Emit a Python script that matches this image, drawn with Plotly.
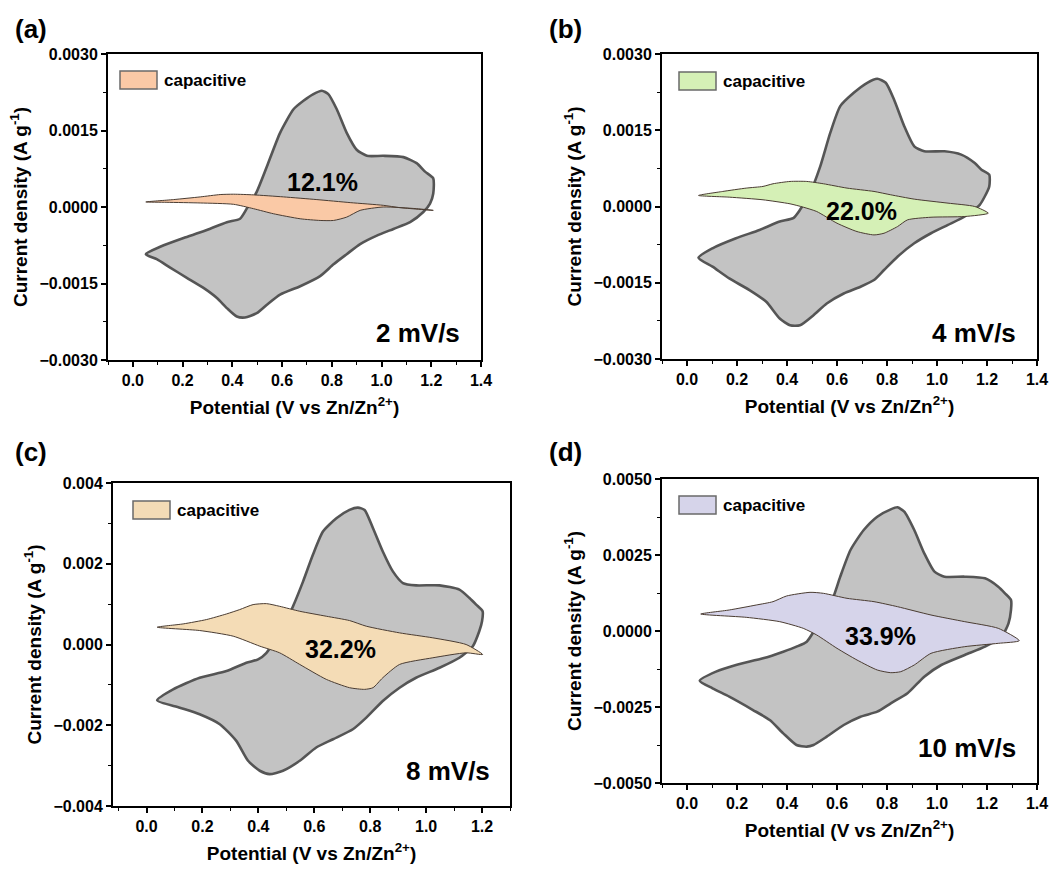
import plotly.graph_objects as go

W, H = 1059, 870

# ---------------- data (current density in A/g vs potential in V) ----------------
a_cv_x = [0.052, 0.110, 0.204, 0.284, 0.378, 0.431, 0.458, 0.498, 0.539, 0.592, 0.646, 0.686, 0.726, 0.760, 0.786, 0.820,
          0.860, 0.900, 0.941, 1.007, 1.088, 1.141, 1.175, 1.208, 1.208, 1.195, 1.168, 1.115, 1.048, 0.981, 0.914, 0.860,
          0.807, 0.753, 0.673, 0.592, 0.539, 0.498, 0.451, 0.418, 0.378, 0.338, 0.284, 0.217, 0.150, 0.096, 0.052]
a_cv_y = [-0.000925, -0.000780, -0.000608, -0.000476, -0.000297, -0.000231, -0.000033, 0.000297, 0.000793, 0.001454,
          0.001916, 0.002082, 0.002214, 0.002280, 0.002214, 0.001916, 0.001454, 0.001123, 0.001004, 0.001004, 0.000978,
          0.000859, 0.000694, 0.000562, 0.000264, 0.000066, -0.000099, -0.000297, -0.000430, -0.000562, -0.000727,
          -0.000925, -0.001123, -0.001355, -0.001553, -0.001718, -0.001916, -0.002082, -0.002167, -0.002148, -0.001982,
          -0.001784, -0.001586, -0.001388, -0.001189, -0.001024, -0.000925]
a_cap_x = [0.052, 0.163, 0.271, 0.351, 0.405, 0.485, 0.606, 0.740, 0.874, 1.007, 1.074, 1.208, 1.141, 1.007, 0.914,
           0.860, 0.807, 0.753, 0.673, 0.565, 0.485, 0.405, 0.271, 0.137, 0.052]
a_cap_y = [0.000099, 0.000145, 0.000198, 0.000244, 0.000251, 0.000238, 0.000198, 0.000145, 0.000086, 0.000033,
           -0.000013, -0.000066, -0.000033, 0.000000, -0.000066, -0.000198, -0.000264, -0.000264, -0.000231,
           -0.000132, -0.000033, 0.000053, 0.000079, 0.000092, 0.000099]

b_cv_x = [0.046, 0.102, 0.196, 0.290, 0.371, 0.425, 0.452, 0.492, 0.533, 0.573, 0.613, 0.667, 0.721, 0.761, 0.795, 0.828,
          0.869, 0.909, 0.949, 1.030, 1.097, 1.151, 1.178, 1.209, 1.209, 1.191, 1.171, 1.111, 1.044, 0.976, 0.909, 0.842,
          0.788, 0.748, 0.694, 0.627, 0.559, 0.506, 0.452, 0.412, 0.371, 0.317, 0.250, 0.169, 0.102, 0.046]
b_cv_y = [-0.001007, -0.000822, -0.000625, -0.000461, -0.000296, -0.000230, -0.000066, 0.000263, 0.000789, 0.001447,
          0.001974, 0.002237, 0.002434, 0.002513, 0.002434, 0.002105, 0.001579, 0.001184, 0.001086, 0.001086, 0.001020,
          0.000855, 0.000724, 0.000625, 0.000395, 0.000197, 0.000033, -0.000197, -0.000362, -0.000526, -0.000724,
          -0.000987, -0.001250, -0.001447, -0.001579, -0.001711, -0.001908, -0.002138, -0.002336, -0.002336, -0.002204,
          -0.001875, -0.001645, -0.001414, -0.001184, -0.001007]
b_cap_x = [0.046, 0.143, 0.237, 0.304, 0.344, 0.412, 0.479, 0.546, 0.640, 0.748, 0.815, 0.909, 1.044, 1.151, 1.205,
           1.111, 0.976, 0.882, 0.842, 0.788, 0.748, 0.680, 0.600, 0.519, 0.465, 0.412, 0.304, 0.169, 0.046]
b_cap_y = [0.000217, 0.000296, 0.000362, 0.000395, 0.000447, 0.000493, 0.000493, 0.000447, 0.000362, 0.000296,
           0.000230, 0.000145, 0.000066, 0.000000, -0.000132, -0.000197, -0.000211, -0.000263, -0.000395, -0.000526,
           -0.000559, -0.000493, -0.000329, -0.000099, -0.000013, 0.000053, 0.000132, 0.000184, 0.000217]

c_cv_x = [0.038, 0.095, 0.190, 0.286, 0.357, 0.399, 0.429, 0.464, 0.500, 0.524, 0.560, 0.595, 0.631, 0.679, 0.726, 0.756,
          0.780, 0.810, 0.845, 0.881, 0.917, 0.964, 1.048, 1.119, 1.155, 1.179, 1.202, 1.200, 1.190, 1.167, 1.119, 1.048,
          0.964, 0.905, 0.845, 0.786, 0.738, 0.667, 0.607, 0.548, 0.488, 0.440, 0.405, 0.363, 0.321, 0.262, 0.190, 0.119,
          0.038]
c_cv_y = [-0.001383, -0.001111, -0.000823, -0.000658, -0.000453, -0.000370, -0.000206, 0.000165, 0.000576, 0.000946,
          0.001564, 0.002222, 0.002798, 0.003127, 0.003333, 0.003391, 0.003333, 0.002880, 0.002304, 0.001811, 0.001523,
          0.001465, 0.001465, 0.001358, 0.001152, 0.000988, 0.000823, 0.000576, 0.000329, -0.000041, -0.000329,
          -0.000576, -0.000823, -0.001070, -0.001399, -0.001811, -0.002099, -0.002346, -0.002551, -0.002880, -0.003127,
          -0.003210, -0.003127, -0.002880, -0.002387, -0.001975, -0.001728, -0.001564, -0.001383]
c_cap_x = [0.038, 0.131, 0.214, 0.286, 0.333, 0.381, 0.429, 0.476, 0.548, 0.643, 0.726, 0.786, 0.905, 1.024, 1.143,
           1.202, 1.143, 1.024, 0.905, 0.845, 0.810, 0.780, 0.726, 0.643, 0.548, 0.476, 0.405, 0.310, 0.190, 0.038]
c_cap_y = [0.000428, 0.000510, 0.000617, 0.000757, 0.000864, 0.000988, 0.001012, 0.000946, 0.000823, 0.000700,
           0.000593, 0.000453, 0.000288, 0.000165, 0.000000, -0.000247, -0.000206, -0.000329, -0.000494, -0.000823,
           -0.001070, -0.001111, -0.001070, -0.000864, -0.000494, -0.000206, -0.000041, 0.000206, 0.000346, 0.000428]

d_cv_x = [0.051, 0.116, 0.196, 0.304, 0.385, 0.438, 0.479, 0.519, 0.559, 0.586, 0.613, 0.654, 0.707, 0.761, 0.815, 0.842,
          0.869, 0.909, 0.949, 0.990, 1.030, 1.111, 1.192, 1.245, 1.272, 1.296, 1.296, 1.286, 1.259, 1.192, 1.111, 1.017,
          0.949, 0.882, 0.815, 0.761, 0.694, 0.627, 0.559, 0.506, 0.479, 0.438, 0.385, 0.331, 0.264, 0.169, 0.102, 0.051]
d_cv_y = [-0.001634, -0.001338, -0.001118, -0.000899, -0.000680, -0.000515, -0.000351, 0.000143, 0.000691, 0.001129,
          0.001787, 0.002664, 0.003322, 0.003761, 0.004002, 0.004068, 0.003925, 0.003322, 0.002555, 0.001952, 0.001787,
          0.001787, 0.001732, 0.001458, 0.001239, 0.001020, 0.000691, 0.000252, -0.000186, -0.000515, -0.000789,
          -0.001118, -0.001502, -0.002050, -0.002379, -0.002654, -0.002818, -0.003092, -0.003476, -0.003750, -0.003805,
          -0.003750, -0.003366, -0.002928, -0.002599, -0.002160, -0.001886, -0.001634]
d_cap_x = [0.055, 0.169, 0.277, 0.344, 0.398, 0.492, 0.546, 0.640, 0.748, 0.842, 0.976, 1.111, 1.245, 1.329, 1.245,
           1.111, 0.976, 0.909, 0.855, 0.815, 0.761, 0.680, 0.600, 0.519, 0.465, 0.371, 0.237, 0.055]
d_cap_y = [0.000559, 0.000691, 0.000855, 0.000965, 0.001151, 0.001272, 0.001239, 0.001075, 0.000965, 0.000800,
           0.000526, 0.000307, 0.000088, -0.000318, -0.000406, -0.000515, -0.000735, -0.001118, -0.001338, -0.001371,
           -0.001283, -0.000954, -0.000570, -0.000132, 0.000088, 0.000307, 0.000450, 0.000559]

panel_labels = ["(a)", "(b)", "(c)", "(d)"]
scan_rates = ["2 mV/s", "4 mV/s", "8 mV/s", "10 mV/s"]
cap_percent = ["12.1%", "22.0%", "32.2%", "33.9%"]
cap_label_x = [0.761, 0.697, 0.693, 0.775]
cap_label_y = [0.00049, -0.000079, -0.000099, -0.000154]
cap_colors = ["#fac9a6", "#d5f0b6", "#f4dcb6", "#d6d4ea"]
legend_name = "capacitive"

# ---------------- layout geometry (pixels) ----------------
panels = [
    dict(cv=(a_cv_x, a_cv_y), cap=(a_cap_x, a_cap_y), px=(108, 481), py=(54, 360),
         xr=[-0.1, 1.4], yr=[-0.003, 0.003], ydt=0.0015, yfmt=".4f", ymin=0.00075,
         lab=(31, 29), rate=(462, 333), leg=(12, 17)),
    dict(cv=(b_cv_x, b_cv_y), cap=(b_cap_x, b_cap_y), px=(662, 1037), py=(54, 359),
         xr=[-0.1, 1.4], yr=[-0.003, 0.003], ydt=0.0015, yfmt=".4f", ymin=0.00075,
         lab=(565, 29), rate=(1018, 333), leg=(17, 18)),
    dict(cv=(c_cv_x, c_cv_y), cap=(c_cap_x, c_cap_y), px=(113, 510), py=(483, 806),
         xr=[-0.12, 1.3], yr=[-0.004, 0.004], ydt=0.002, yfmt=".3f", ymin=0.001,
         lab=(31, 452), rate=(492, 771), leg=(20, 18)),
    dict(cv=(d_cv_x, d_cv_y), cap=(d_cap_x, d_cap_y), px=(662, 1037), py=(479, 783),
         xr=[-0.1, 1.4], yr=[-0.005, 0.005], ydt=0.0025, yfmt=".4f", ymin=0.00125,
         lab=(565, 452), rate=(1018, 748), leg=(17, 17)),
]

FONT = "Liberation Sans, Arial, sans-serif"
fig = go.Figure()
annotations = []
shapes = []
layout = {}

for i, p in enumerate(panels):
    k = "" if i == 0 else str(i + 1)
    xa, ya = "x" + k, "y" + k
    fig.add_trace(go.Scatter(x=p["cv"][0], y=p["cv"][1], xaxis=xa, yaxis=ya, mode="lines",
                             fill="toself", fillcolor="#c3c3c3",
                             line=dict(color="#555555", width=2.6, shape="spline", smoothing=0.6),
                             showlegend=False, hoverinfo="skip"))
    fig.add_trace(go.Scatter(x=p["cap"][0], y=p["cap"][1], xaxis=xa, yaxis=ya, mode="lines",
                             fill="toself", fillcolor=cap_colors[i], name=legend_name,
                             line=dict(color="#4a3c32", width=1, shape="spline", smoothing=0.6),
                             showlegend=False, hoverinfo="skip"))
    x0, x1 = p["px"]
    y0, y1 = p["py"]
    axis_common = dict(showline=True, linewidth=2, linecolor="black", mirror=True,
                       ticks="outside", ticklen=5, tickwidth=1.5, tickcolor="black",
                       showgrid=False, zeroline=False, automargin=False,
                       tickfont=dict(family=FONT, size=16, color="black", weight="bold"))
    layout["xaxis" + k] = dict(axis_common, domain=[x0 / W, x1 / W], range=p["xr"], anchor=ya,
                               tick0=0, dtick=0.2, tickformat=".1f",
                               minor=dict(dtick=0.1, ticks="outside", ticklen=3, tickcolor="black", tickwidth=1.2),
                               title=dict(text="Potential (V vs Zn/Zn<sup>2+</sup>)", standoff=12,
                                          font=dict(family=FONT, size=19, color="black", weight="bold")))
    layout["yaxis" + k] = dict(axis_common, domain=[1 - y1 / H, 1 - y0 / H], range=p["yr"], anchor=xa,
                               tick0=0, dtick=p["ydt"], tickformat=p["yfmt"],
                               minor=dict(dtick=p["ymin"], ticks="outside", ticklen=3, tickcolor="black", tickwidth=1.2),
                               title=dict(text="Current density (A g<sup>-1</sup>)", standoff=7,
                                          font=dict(family=FONT, size=19, color="black", weight="bold")))
    # panel label
    annotations.append(dict(text=panel_labels[i], x=p["lab"][0] / W, y=1 - p["lab"][1] / H, xref="paper",
                            yref="paper", showarrow=False, xanchor="center", yanchor="middle",
                            font=dict(family=FONT, size=26, color="black", weight="bold")))
    # scan rate
    annotations.append(dict(text=scan_rates[i], x=p["rate"][0] / W, y=1 - p["rate"][1] / H, xref="paper",
                            yref="paper", showarrow=False, xanchor="right", yanchor="middle",
                            font=dict(family=FONT, size=26, color="black", weight="bold")))
    # capacitive percentage
    annotations.append(dict(text=cap_percent[i], x=cap_label_x[i], y=cap_label_y[i], xref=xa, yref=ya,
                            showarrow=False, xanchor="center", yanchor="middle",
                            font=dict(family=FONT, size=25, color="black", weight="bold")))
    # legend swatch + text
    wpx, hpx = x1 - x0, y1 - y0
    lx, ly = p["leg"]
    shapes.append(dict(type="rect", xref=xa + " domain", yref=ya + " domain",
                       x0=lx / wpx, x1=(lx + 37) / wpx, y0=1 - (ly + 18) / hpx, y1=1 - ly / hpx,
                       fillcolor=cap_colors[i], line=dict(color="#6a6a6a", width=1.5)))
    annotations.append(dict(text=legend_name, xref=xa + " domain", yref=ya + " domain",
                            x=(lx + 42) / wpx, y=1 - (ly + 9) / hpx, showarrow=False,
                            xanchor="left", yanchor="middle",
                            font=dict(family=FONT, size=17, color="black", weight="bold")))

fig.update_layout(**layout)
fig.update_layout(width=W, height=H, margin=dict(l=0, r=0, t=0, b=0),
                  paper_bgcolor="white", plot_bgcolor="white",
                  annotations=annotations, shapes=shapes,
                  font=dict(family=FONT, color="black"))
fig.write_html("out.html", config={"displayModeBar": False},
               post_script="document.body.style.margin='0px';")
